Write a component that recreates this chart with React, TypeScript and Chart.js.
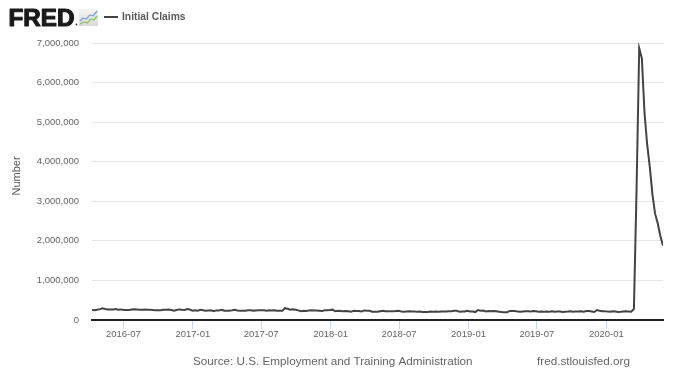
import React, { useEffect, useRef } from "react";
import { Chart, registerables } from "chart.js";

Chart.register(...registerables);

// Weekly initial claims (thousands), weeks ending Saturday, starting 2016-04-09
const startWeek = "2016-04-09";
const claims2016 = [
  253, 248, 257, 274, 294, 278, 268, 267, 264, 277, 259, 268, 254, 253, 253, 266, 269,
  266, 262, 261, 263, 259, 260, 252, 249, 246, 246, 260, 258, 265, 254, 235, 251, 268,
  258, 254, 275, 265, 235,
];
const claims2017 = [
  247, 234, 259, 246, 234, 239, 244, 223, 243, 241, 258, 235, 234, 234, 244, 257, 238,
  236, 232, 234, 248, 245, 237, 241, 244, 248, 247, 234, 245, 240, 244, 232, 234, 236,
  298, 284, 260, 272, 260, 243, 223, 234, 229, 239, 249, 240, 238, 236, 225, 245, 245, 250,
];
const claims2018 = [
  261, 220, 233, 230, 221, 230, 222, 210, 231, 226, 229, 215, 242, 233, 232, 209, 211,
  211, 222, 234, 222, 222, 218, 218, 228, 232, 214, 207, 217, 218, 213, 212, 210, 213,
  203, 205, 201, 215, 207, 214, 210, 216, 214, 214, 221, 224, 234, 231, 206, 214, 216, 233,
];
const claims2019 = [
  216, 213, 200, 253, 234, 239, 216, 225, 223, 229, 221, 211, 202, 196, 193, 230, 230,
  228, 212, 211, 215, 218, 222, 216, 227, 221, 209, 216, 208, 217, 209, 221, 211, 215, 217,
  204, 210, 213, 220, 210, 214, 213, 218, 211, 225, 227, 215, 203, 252, 235, 220, 224,
];
const claims2020 = [
  212, 207, 220, 215, 203, 206, 215, 220, 217, 211, 282, 3307, 6867, 6615, 5237, 4442,
  3867, 3176, 2687, 2446, 2123, 1877,
];
const tickMonths = ["2016-07", "2017-01", "2017-07", "2018-01", "2018-07", "2019-01", "2019-07", "2020-01"];
const yTicks = [0, 1000000, 2000000, 3000000, 4000000, 5000000, 6000000, 7000000];

const seriesLabel = "Initial Claims";
const yTitle = "Number";
const sourceText = "Source: U.S. Employment and Training Administration";
const siteText = "fred.stlouisfed.org";

const DAY = 86400000;

function parseDay(s: string) {
  const [y, m, d] = s.split("-").map(Number);
  return Date.UTC(y, m - 1, d || 1);
}

function fmtMonth(v: number) {
  const d = new Date(v);
  const m = d.getUTCMonth() + 1;
  return `${d.getUTCFullYear()}-${m < 10 ? "0" + m : m}`;
}

const FONT = "'Liberation Sans', Arial, sans-serif";

const decorPlugin = {
  id: "fredDecor",
  afterDraw(chart: any) {
    const ctx = chart.ctx as CanvasRenderingContext2D;
    ctx.save();
    // FRED logo text
    ctx.font = `bold 23px ${FONT}`;
    ctx.fillStyle = "#1a1a1a";
    ctx.strokeStyle = "#1a1a1a";
    ctx.lineWidth = 1.1;
    ctx.lineJoin = "round";
    ctx.textBaseline = "alphabetic";
    const w = ctx.measureText("FRED").width;
    ctx.save();
    ctx.translate(8.5, 25.5);
    ctx.scale(66 / w, 1);
    ctx.fillText("FRED", 0, 0);
    ctx.strokeText("FRED", 0, 0);
    ctx.restore();
    // registered mark dot
    ctx.fillStyle = "#333";
    ctx.beginPath();
    ctx.arc(76.5, 24.5, 0.9, 0, Math.PI * 2);
    ctx.fill();
    // icon
    const g = ctx.createLinearGradient(0, 9, 0, 26);
    g.addColorStop(0, "#f4f4f4");
    g.addColorStop(1, "#d9d9d9");
    ctx.fillStyle = g;
    ctx.fillRect(79, 9, 19, 17);
    ctx.lineWidth = 1.3;
    ctx.strokeStyle = "#7fa3d3";
    ctx.beginPath();
    ctx.moveTo(80, 21);
    ctx.lineTo(83, 18);
    ctx.lineTo(86, 19);
    ctx.lineTo(90, 15);
    ctx.lineTo(93, 16);
    ctx.lineTo(97, 11);
    ctx.stroke();
    ctx.strokeStyle = "#8fbf6a";
    ctx.beginPath();
    ctx.moveTo(80, 24);
    ctx.lineTo(84, 22);
    ctx.lineTo(87, 23);
    ctx.lineTo(91, 19);
    ctx.lineTo(94, 20);
    ctx.lineTo(97, 16);
    ctx.stroke();
    // legend
    ctx.strokeStyle = "#444";
    ctx.lineWidth = 2;
    ctx.beginPath();
    ctx.moveTo(104, 17);
    ctx.lineTo(118, 17);
    ctx.stroke();
    ctx.font = `bold 10.3px ${FONT}`;
    ctx.fillStyle = "#5a5a5a";
    ctx.textBaseline = "middle";
    ctx.textAlign = "left";
    ctx.fillText(seriesLabel, 122, 17);
    // y title
    ctx.save();
    ctx.translate(16.5, 176);
    ctx.rotate(-Math.PI / 2);
    ctx.font = `11px ${FONT}`;
    ctx.fillStyle = "#555";
    ctx.textAlign = "center";
    ctx.textBaseline = "middle";
    ctx.fillText(yTitle, 0, 0);
    ctx.restore();
    // footer
    ctx.font = `11.7px ${FONT}`;
    ctx.fillStyle = "#666";
    ctx.textAlign = "left";
    ctx.textBaseline = "middle";
    ctx.fillText(sourceText, 193, 362);
    ctx.fillText(siteText, 537, 362);
    ctx.restore();
  },
};

export default function App() {
  const ref = useRef<HTMLCanvasElement | null>(null);
  useEffect(() => {
    document.body.style.margin = "0";
    const values = [...claims2016, ...claims2017, ...claims2018, ...claims2019, ...claims2020];
    const t0 = parseDay(startWeek);
    const data = values.map((v, i) => ({ x: t0 + i * 7 * DAY, y: v * 1000 }));
    const tickVals = tickMonths.map(parseDay);
    const chart = new Chart(ref.current as HTMLCanvasElement, {
      type: "line",
      data: {
        datasets: [
          {
            label: seriesLabel,
            data,
            borderColor: "#444",
            borderWidth: 2,
            pointRadius: 0,
            tension: 0,
            fill: false,
          },
        ],
      },
      options: {
        animation: false,
        responsive: false,
        events: [],
        layout: { padding: { top: 43, right: 17, left: 0, bottom: 0 } },
        plugins: { legend: { display: false }, tooltip: { enabled: false }, title: { display: false } },
        scales: {
          x: {
            type: "linear",
            min: data[0].x,
            max: data[data.length - 1].x,
            afterBuildTicks: (scale: any) => {
              scale.ticks = tickVals.map((v) => ({ value: v }));
            },
            afterFit: (scale: any) => {
              scale.height = 63;
            },
            ticks: {
              autoSkip: false,
              maxRotation: 0,
              padding: 0,
              color: "#666",
              font: { family: FONT, size: 9.5 },
              callback: (v: any) => fmtMonth(Number(v)),
            },
            grid: {
              drawOnChartArea: false,
              drawTicks: true,
              tickLength: 9,
              color: "#ccd6eb",
            },
            border: { display: true, color: "#222", width: 2 },
          },
          y: {
            type: "linear",
            min: 0,
            max: 7000000,
            afterBuildTicks: (scale: any) => {
              scale.ticks = yTicks.map((v) => ({ value: v }));
            },
            afterFit: (scale: any) => {
              scale.width = 92;
            },
            ticks: {
              padding: 13,
              color: "#666",
              font: { family: FONT, size: 9.5 },
              callback: (v: any) => Number(v).toLocaleString("en-US"),
            },
            grid: { color: "#e6e6e6", lineWidth: 1, drawTicks: false },
            border: { display: false },
          },
        },
      },
      plugins: [decorPlugin],
    } as any);
    return () => chart.destroy();
  }, []);
  return <canvas ref={ref} width={680} height={383} style={{ display: "block" }} />;
}
